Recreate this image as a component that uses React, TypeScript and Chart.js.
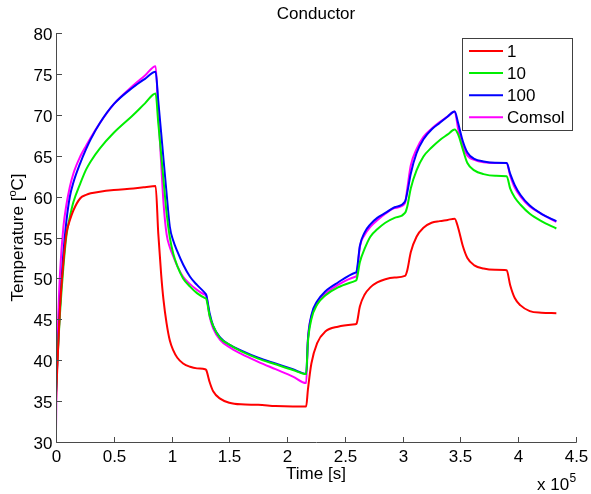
import React, { useEffect, useRef } from 'react';
import { Chart, registerables } from 'chart.js';

Chart.register(...registerables);

// Time in units of 1e5 s
const timeE5 = [
  0, 0.005, 0.02, 0.035, 0.064, 0.09, 0.12, 0.15, 0.21, 0.26,
  0.3, 0.38, 0.5, 0.67, 0.77, 0.862, 0.885, 0.91, 0.93, 0.957,
  0.985, 1.015, 1.05, 1.1, 1.16, 1.22, 1.29, 1.3, 1.33, 1.36,
  1.42, 1.5, 1.6, 1.75, 1.9, 2.05, 2.165, 2.18, 2.21, 2.26,
  2.33, 2.44, 2.59, 2.6, 2.63, 2.67, 2.72, 2.78, 2.85, 2.93,
  3.02, 3.04, 3.07, 3.12, 3.18, 3.25, 3.32, 3.39, 3.45, 3.48,
  3.52, 3.56, 3.62, 3.7, 3.8, 3.9, 3.93, 3.97, 4.02, 4.1,
  4.2, 4.33,
];

const temp1 = [
  35, 37, 42, 46.5, 52, 55.5, 57.1, 58.3, 59.8, 60.2,
  60.4, 60.6, 60.8, 61.0, 61.15, 61.3, 55.5, 50.5, 47.4, 44.5,
  42.4, 41.2, 40.3, 39.6, 39.2, 39.0, 38.9, 38.8, 37.3, 36.2,
  35.3, 34.8, 34.6, 34.55, 34.4, 34.35, 34.35, 36.4, 39.6, 42.1,
  43.5, 44.1, 44.4, 44.45, 46.6, 48.0, 48.9, 49.5, 49.9, 50.1,
  50.3, 51.0, 53.2, 55.1, 56.2, 56.8, 57.0, 57.15, 57.3, 56.2,
  54.0, 52.5, 51.6, 51.2, 51.05, 51.0, 49.2, 47.6, 46.7, 46.0,
  45.8, 45.75,
];

const temp10 = [
  36, 38, 42, 45.8, 51.4, 55.2, 57.5, 59.3, 61.6, 63.3,
  64.3, 65.9, 67.8, 70.0, 71.4, 72.6, 69.0, 65.2, 62.1, 58.0,
  55.0, 53.0, 51.5, 50.0, 49.0, 48.2, 47.6, 47.5, 45.4, 44.2,
  42.7, 41.9, 41.1, 40.2, 39.5, 38.8, 38.3, 42.2, 45.0, 46.8,
  47.9, 48.9, 49.7, 49.8, 52.0, 53.6, 55.1, 56.0, 56.8, 57.4,
  58.0, 58.8, 61.0, 63.2, 64.9, 66.0, 66.9, 67.6, 68.2, 67.6,
  65.8, 64.1, 63.2, 62.75, 62.55, 62.5, 61.0, 59.9, 59.0, 57.9,
  57.0, 56.1,
];

const temp100 = [
  36, 37.5, 42.5, 46.6, 53.1, 57.0, 60.0, 61.7, 64.1, 65.8,
  67.0, 69.0, 71.3, 73.4, 74.4, 75.25, 71.7, 67.8, 64.6, 60.4,
  56.3, 54.6, 53.3, 51.7, 50.2, 49.2, 48.2, 48.0, 45.7, 44.2,
  42.8, 41.9, 41.2, 40.3, 39.6, 38.9, 38.35, 42.5, 45.5, 47.2,
  48.4, 49.5, 50.7, 50.8, 54.0, 55.6, 56.6, 57.4, 58.0, 58.7,
  59.4, 60.5, 62.8, 65.3, 67.0, 68.2, 69.0, 69.8, 70.4, 69.0,
  66.8, 65.4, 64.6, 64.3, 64.15, 64.1, 62.8, 61.4, 60.2, 58.9,
  57.9, 57.0,
];

const tempComsol = [
  31.3, 37.5, 45.5, 50.7, 56.3, 59.0, 61.2, 62.8, 64.9, 66.2,
  67.2, 69.0, 71.3, 73.6, 74.8, 75.95, 70.3, 64.1, 59.3, 55.4,
  53.8, 52.7, 51.5, 50.2, 49.3, 48.6, 48.0, 47.9, 45.3, 43.9,
  42.5, 41.6, 40.8, 39.8, 38.9, 38.0, 37.2, 42.5, 45.3, 47.0,
  48.1, 49.2, 50.2, 50.3, 53.9, 55.3, 56.3, 57.1, 57.9, 58.6,
  59.2, 61.0, 63.8, 65.8, 67.3, 68.3, 69.1, 69.8, 70.4, 68.3,
  66.2, 65.0, 64.5, 64.2, 64.1, 64.1, 62.6, 61.1, 60.0, 58.8,
  57.9, 56.9,
];

const seriesLabels = ['1', '10', '100', 'Comsol'];
const seriesColors = ['#ff0000', '#00ee00', '#0000ff', '#ff00ff'];
const seriesValues = [temp1, temp10, temp100, tempComsol];

const chartTitle = 'Conductor';
const xTitle = 'Time [s]';
const xMultiplier = '5';

const FONT = '"Liberation Sans", Arial, Helvetica, sans-serif';

const decorPlugin = {
  id: 'matlabDecor',
  afterDraw(chart: any) {
    const ctx = chart.ctx as CanvasRenderingContext2D;
    const { left, right, top, bottom } = chart.chartArea;
    const xs = chart.scales.x;
    const ys = chart.scales.y;
    ctx.save();

    // axes lines
    ctx.strokeStyle = '#4a4a4a';
    ctx.lineWidth = 1;
    ctx.beginPath();
    ctx.moveTo(left + 0.5, top);
    ctx.lineTo(left + 0.5, bottom + 0.5);
    ctx.lineTo(right + 0.5, bottom + 0.5);
    ctx.stroke();

    // inward ticks + labels
    ctx.fillStyle = '#000';
    ctx.font = `17px ${FONT}`;
    ctx.textBaseline = 'alphabetic';
    ctx.textAlign = 'center';
    xs.ticks.forEach((t: any) => {
      const px = Math.round(xs.getPixelForValue(t.value)) + 0.5;
      ctx.beginPath();
      ctx.moveTo(px, bottom + 0.5);
      ctx.lineTo(px, bottom - 5);
      ctx.stroke();
      ctx.fillText(String(t.value), px, bottom + 20);
    });
    ctx.textAlign = 'right';
    ys.ticks.forEach((t: any) => {
      const py = Math.round(ys.getPixelForValue(t.value)) + 0.5;
      ctx.beginPath();
      ctx.moveTo(left + 0.5, py);
      ctx.lineTo(left + 6, py);
      ctx.stroke();
      ctx.fillText(String(t.value), left - 3.5, py + 6);
    });

    // title
    ctx.textAlign = 'center';
    ctx.fillText(chartTitle, (left + right) / 2, 18.5);

    // x title
    ctx.fillText(xTitle, (left + right) / 2, bottom + 37);

    // x 10^5
    ctx.textAlign = 'left';
    ctx.fillText('x 10', 537, 490);
    ctx.font = `12px ${FONT}`;
    ctx.fillText(xMultiplier, 569.5, 482);

    // y title with superscript o
    ctx.save();
    ctx.translate(23, (top + bottom) / 2);
    ctx.rotate(-Math.PI / 2);
    ctx.font = `17px ${FONT}`;
    const p1 = 'Temperature [';
    const p3 = 'C]';
    const w1 = ctx.measureText(p1).width;
    const w3 = ctx.measureText(p3).width;
    ctx.font = `11px ${FONT}`;
    const w2 = ctx.measureText('o').width;
    const total = w1 + w2 + w3;
    let cx = -total / 2;
    ctx.textAlign = 'left';
    ctx.font = `17px ${FONT}`;
    ctx.fillText(p1, cx, 0);
    cx += w1;
    ctx.font = `11px ${FONT}`;
    ctx.fillText('o', cx, -7);
    cx += w2;
    ctx.font = `17px ${FONT}`;
    ctx.fillText(p3, cx, 0);
    ctx.restore();

    // legend
    const lx = 462.5, ly = 38.5, lw = 110, lh = 92;
    ctx.fillStyle = '#fff';
    ctx.fillRect(lx, ly, lw, lh);
    ctx.strokeStyle = '#404040';
    ctx.strokeRect(lx, ly, lw, lh);
    ctx.font = `17px ${FONT}`;
    ctx.textAlign = 'left';
    seriesLabels.forEach((lab, i) => {
      const ry = 51 + i * 22.1;
      ctx.strokeStyle = seriesColors[i];
      ctx.lineWidth = 2;
      ctx.beginPath();
      ctx.moveTo(469, ry);
      ctx.lineTo(503, ry);
      ctx.stroke();
      ctx.fillStyle = '#000';
      ctx.fillText(lab, 507, ry + 6);
    });

    ctx.restore();
  },
};

export default function App() {
  const ref = useRef<HTMLCanvasElement | null>(null);

  useEffect(() => {
    document.body.style.margin = '0';
    const canvas = ref.current;
    if (!canvas) return;
    const chart = new Chart(canvas, {
      type: 'line',
      data: {
        datasets: seriesLabels.map((label, i) => ({
          label,
          data: timeE5.map((t, k) => ({ x: t, y: seriesValues[i][k] })),
          borderColor: seriesColors[i],
          backgroundColor: seriesColors[i],
          borderWidth: 2,
          pointRadius: 0,
          cubicInterpolationMode: 'monotone' as const,
          fill: false,
        })),
      },
      options: {
        responsive: false,
        animation: false,
        devicePixelRatio: 1,
        layout: { padding: { top: 33, right: 15, left: 0, bottom: 0 } },
        plugins: {
          legend: { display: false },
          title: { display: false },
          tooltip: { enabled: false },
        },
        scales: {
          x: {
            type: 'linear',
            min: 0,
            max: 4.5,
            ticks: { display: false, stepSize: 0.5 },
            grid: { display: false },
            border: { display: false },
            afterFit: (s: any) => { s.height = 52; },
          },
          y: {
            type: 'linear',
            min: 30,
            max: 80,
            ticks: { display: false, stepSize: 5 },
            grid: { display: false },
            border: { display: false },
            afterFit: (s: any) => { s.width = 56; },
          },
        },
      },
      plugins: [decorPlugin],
    });
    return () => chart.destroy();
  }, []);

  return (
    <div style={{ position: 'absolute', left: 0, top: 0, width: 591, height: 494, background: '#fff' }}>
      <canvas ref={ref} width={591} height={494} style={{ width: 591, height: 494 }} />
    </div>
  );
}
